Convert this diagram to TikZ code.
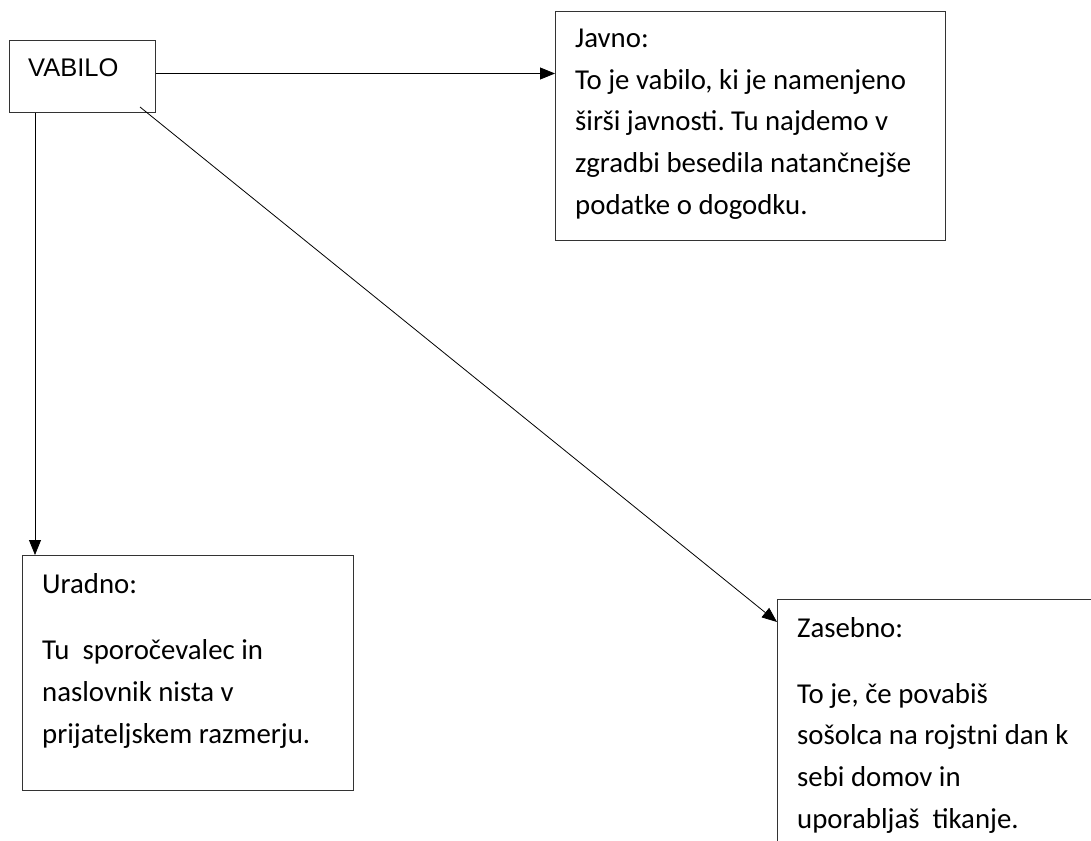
\documentclass[tikz,border=0pt]{standalone}
\usepackage{fontspec}
\setmainfont{Carlito}
\newfontfamily\arialfont{Liberation Sans}
\frenchspacing
\usetikzlibrary{positioning}
\usetikzlibrary{arrows.meta}

\begin{document}
\begin{tikzpicture}[x=1pt,y=-1pt,
  box/.style={draw=black!80, line width=1pt, inner sep=0pt, anchor=north west},
  txt/.style={inner sep=0pt, anchor=base west, align=left,
    font=\fontsize{28.8}{41.6}\selectfont},
  arr/.style={line width=0.8pt, -{Triangle[length=15pt,width=12pt]}}]
\useasboundingbox (0,0) rectangle (1091,840);
\clip (0,0) rectangle (1091,840);

% boxes
\node[box, minimum width=146, minimum height=72] (vabilo) at (9,40) {};
\node[box, minimum width=390, minimum height=229] (javno) at (555,11) {};
\node[box, minimum width=331, minimum height=235] (uradno) at (22,555) {};
\node[box, minimum width=360, minimum height=290] (zasebno) at (777,599) {};

% texts (base = last line)
\node[inner sep=0pt, anchor=base west, font=\arialfont\fontsize{25.5}{30}\selectfont] (vabilotxt) at (28,77) {VABILO};

\node[txt] (javnotxt) at (575,214) {Javno:\\To je vabilo, ki je namenjeno\\širši javnosti. Tu najdemo v\\zgradbi besedila natančnejše\\podatke o dogodku.};

\node[txt] (uradnonaslov) at (42,593) {Uradno:};
\node[txt] (uradnotxt) at (42,743) {Tu\ \ sporočevalec in\\naslovnik nista v\\prijateljskem razmerju.};

\node[txt] (zasebnonaslov) at (797,637) {Zasebno:};
\node[txt] (zasebnotxt) at (797,828) {To je, če povabiš\\sošolca na rojstni dan k\\sebi domov in\\uporabljaš\ \ tikanje.};

% arrows
\draw[arr] ([yshift=3]vabilo.east) -- ([yshift=3]vabilo.east -| javno.west);
\draw[arr] ([xshift=26]vabilo.south west) -- ([xshift=26]vabilo.south west |- uradno.north);
\draw[arr] ([xshift=-16,yshift=6]vabilo.south east) -- ([yshift=-23]zasebno.north west);

\end{tikzpicture}
\end{document}
